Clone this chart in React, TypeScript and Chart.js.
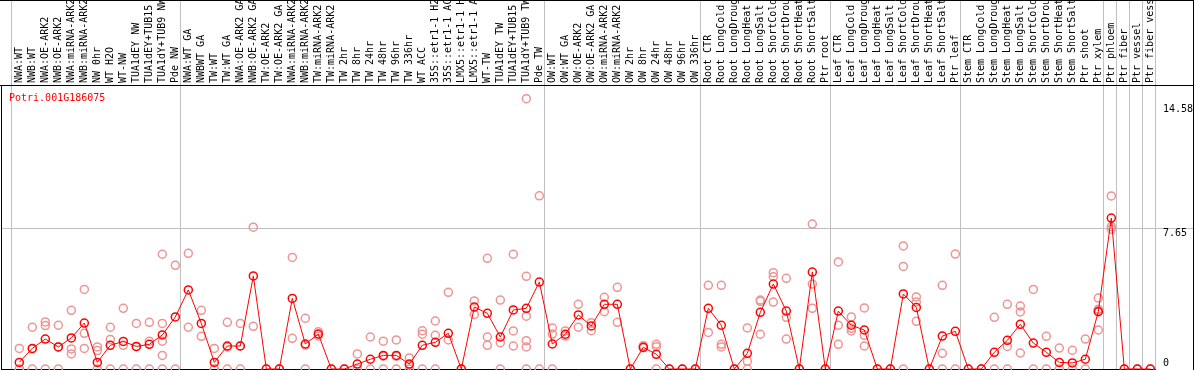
import React, { useEffect, useRef } from "react";
import { Chart, registerables } from "chart.js";

Chart.register(...registerables);

const geneId = "Potri.001G186075";

const categories = [
  "NWA:WT", "NWB:WT", "NWA:OE-ARK2", "NWB:OE-ARK2", "NWA:miRNA-ARK2", "NWB:miRNA-ARK2", "NW 0hr", "WT H2O", "WT-NW", "TUA1dEY NW", "TUA1dEY+TUB15 NW", "TUA1dY+TUB9 NW", "Pde NW",
  "NWA:WT GA", "NWBWT GA", "TW:WT", "TW:WT GA", "NWA:OE-ARK2 GA", "NWB:OE-ARK2 GA", "TW:OE-ARK2", "TW:OE-ARK2 GA", "NWA:miRNA-ARK2 GA", "NWB:miRNA-ARK2 GA", "TW:miRNA-ARK2", "TW:miRNA-ARK2 GA",
  "TW 2hr", "TW 8hr", "TW 24hr", "TW 48hr", "TW 96hr", "TW 336hr", "WT ACC", "35S::etr1-1 H2O", "35S::etr1-1 ACC", "LMX5::etr1-1 H2O", "LMX5::etr1-1 ACC", "WT-TW", "TUA1dEY TW", "TUA1dEY+TUB15 TW", "TUA1dY+TUB9 TW", "Pde TW",
  "OW:WT", "OW:WT GA", "OW:OE-ARK2", "OW:OE-ARK2 GA", "OW:miRNA-ARK2", "OW:miRNA-ARK2 GA", "OW 2hr", "OW 8hr", "OW 24hr", "OW 48hr", "OW 96hr", "OW 336hr",
  "Root CTR", "Root LongCold", "Root LongDrought", "Root LongHeat", "Root LongSalt", "Root ShortCold", "Root ShortDrought", "Root ShortHeat", "Root ShortSalt", "Ptr root",
  "Leaf CTR", "Leaf LongCold", "Leaf LongDrought", "Leaf LongHeat", "Leaf LongSalt", "Leaf ShortCold", "Leaf ShortDrought", "Leaf ShortHeat", "Leaf ShortSalt", "Ptr leaf",
  "Stem CTR", "Stem LongCold", "Stem LongDrought", "Stem LongHeat", "Stem LongSalt", "Stem ShortCold", "Stem ShortDrought", "Stem ShortHeat", "Stem ShortSalt", "Ptr shoot",
  "Ptr xylem", "Ptr phloem", "Ptr fiber", "Ptr vessel", "Ptr fiber vessel",
];

const means = [
  0.36, 1.12, 1.63, 1.2, 1.69, 2.5, 0.36, 1.29, 1.5, 1.23, 1.34, 1.85, 2.83,
  4.3, 2.48, 0.36, 1.25, 1.25, 5.06, 0, 0, 3.84, 1.36, 1.9, 0, 0, 0.27, 0.53, 0.74, 0.74, 0.27, 1.29, 1.45, 1.94, 0, 3.37, 3.03, 1.74, 3.21, 3.3, 4.73,
  1.36, 1.89, 2.94, 2.34, 3.52, 3.52, 0, 1.18, 0.8, 0, 0, 0,
  3.3, 2.38, 0, 0.85, 3.08, 4.62, 3.15, 0, 5.27, 0,
  3.15, 2.38, 2.12, 0, 0, 4.08, 3.35, 0, 1.79, 2.05,
  0, 0, 0.91, 1.56, 2.43, 1.41, 0.91, 0.36, 0.33, 0.53, 3.12, 8.21, 0, 0, 0,
];

const replicates: number[][] = [
  [1.12, 0, 0], [2.27, 1.1, 0], [2.56, 2.36, 0], [2.38, 1.2, 0], [3.19, 1.09, 0.82], [4.33, 1.94, 1.12], [1.2, 1.0, 0], [2.27, 1.61, 0], [3.3, 1.29, 0], [2.48, 1.21, 0], [2.54, 1.51, 0], [6.24, 2.48, 1.51, 0.74, 0], [5.64, 0],
  [6.29, 2.27], [3.19, 1.78], [1.12, 0, 0], [2.54, 1.2, 0], [2.48, 1.25, 0], [7.71, 2.32], [0], [0], [6.07, 1.67], [2.76, 1.3, 0], [2.03, 1.8], [0], [0],
  [0.82, 0], [1.74, 0], [1.51, 0.7, 0], [1.58, 0.7, 0], [0.6, 0.2, 0], [2.08, 1.89, 0], [2.61, 1.83, 0], [4.17, 1.58], [0], [3.7, 2.97], [6.02, 1.74, 1.29], [3.75, 1.43, 0], [6.24, 2.07, 1.25], [14.7, 5.04, 2.87, 1.54, 1.2, 0], [9.42, 0],
  [2.23, 1.9, 0], [2.07, 1.79], [3.52, 2.27], [2.52, 2.08], [3.9, 3.12], [4.44, 2.54], [0], [1.27, 1.16], [1.34, 1.21, 0], [0], [0], [0],
  [4.55, 1.99], [4.55, 1.34, 1.2], [0], [2.23, 0.42, 0], [3.75, 3.68, 1.89], [5.24, 5.02, 3.64], [4.93, 2.81, 1.63], [0], [7.88, 4.62, 3.3], [0],
  [5.82, 2.38, 1.34], [2.83, 2.21, 2.07], [3.32, 1.83, 1.25], [0], [0], [6.69, 5.58, 0], [3.92, 3.64, 2.59], [0], [4.55, 0.85, 0], [6.25, 0],
  [0], [0], [2.81, 0], [3.52, 1.23, 0], [3.42, 3.1, 0.87], [4.33, 0], [1.78, 0], [1.14, 0], [1.02, 0], [1.63, 0],
  [3.86, 3.25, 3.17, 2.12], [9.41, 7.74, 7.6], [0], [0], [0],
];

// indices of the first category of each group (vertical separators), plus the end
const groupStarts = [0, 13, 41, 53, 63, 73, 84, 85, 86, 87, 88];

const yTickValues = [14.58, 7.65, 0];
const yTickLabels = ["14.58", "7.65", "0"];
const gridValue = 7.65;
const yMax = 15.39;

const POINT_POS = 0.64; // point position inside each category cell
const MONO = '10px "DejaVu Sans Mono", monospace';

const decorPlugin = {
  id: "decor",
  beforeDraw(chart: any) {
    const { ctx, width, height } = chart;
    ctx.save();
    ctx.fillStyle = "#ffffff";
    ctx.fillRect(0, 0, width, height);
    ctx.restore();
  },
  beforeDatasetsDraw(chart: any) {
    const { ctx, width, height, chartArea: ca } = chart;
    const xs = chart.scales.x;
    const ys = chart.scales.y;
    ctx.save();
    // gray grid
    ctx.strokeStyle = "#c0c0c0";
    ctx.lineWidth = 1;
    const gy = Math.round(ys.getPixelForValue(gridValue)) + 0.5;
    ctx.beginPath();
    ctx.moveTo(ca.left, gy);
    ctx.lineTo(width, gy);
    ctx.stroke();
    for (const b of groupStarts) {
      const x = Math.round(xs.getPixelForValue(b)) + 0.5;
      ctx.beginPath();
      ctx.moveTo(x, 0);
      ctx.lineTo(x, ca.bottom);
      ctx.stroke();
    }
    // black frame lines
    ctx.strokeStyle = "#000000";
    ctx.beginPath();
    ctx.moveTo(0, 0.5);
    ctx.lineTo(width, 0.5);
    ctx.moveTo(0, ca.top - 0.5);
    ctx.lineTo(width, ca.top - 0.5);
    ctx.moveTo(ca.left - 0.5, ca.top - 1);
    ctx.lineTo(ca.left - 0.5, height);
    ctx.moveTo(ca.left - 1, ca.bottom + 0.5);
    ctx.lineTo(Math.round(xs.getPixelForValue(88)) + 1, ca.bottom + 0.5);
    ctx.moveTo(width - 0.5, 0);
    ctx.lineTo(width - 0.5, height);
    ctx.stroke();

    // header category labels (rotated)
    ctx.font = MONO;
    ctx.fillStyle = "#000000";
    ctx.textAlign = "left";
    ctx.textBaseline = "alphabetic";
    ctx.save();
    ctx.beginPath();
    ctx.rect(0, 1, width, ca.top - 2);
    ctx.clip();
    categories.forEach((c, i) => {
      const px = xs.getPixelForValue(i + POINT_POS);
      ctx.save();
      ctx.translate(Math.round(px) + 3, ca.top - 3);
      ctx.rotate(-Math.PI / 2);
      ctx.fillText(c, 0, 0);
      ctx.restore();
    });
    ctx.restore();

    // gene id
    ctx.fillStyle = "#ff0000";
    ctx.fillText(geneId, 9, ca.top + 15);

    // right axis labels
    ctx.fillStyle = "#000000";
    const lx = Math.round(xs.getPixelForValue(88)) + 8;
    yTickValues.forEach((v, k) => {
      let y: number;
      if (v === 0) y = ys.getPixelForValue(0) - 3;
      else if (k === 0) y = ca.top + 26;
      else y = ys.getPixelForValue(v) + 7.5;
      ctx.fillText(yTickLabels[k], lx, y);
    });
    ctx.restore();
  },
};

export default function App() {
  const ref = useRef<HTMLCanvasElement | null>(null);
  useEffect(() => {
    document.body.style.margin = "0";
    const canvas = ref.current;
    if (!canvas) return;
    const repPoints: { x: number; y: number }[] = [];
    replicates.forEach((arr, i) => arr.forEach((v) => repPoints.push({ x: i + POINT_POS, y: v })));
    const meanPoints = means.map((v, i) => ({ x: i + POINT_POS, y: v }));
    const chart = new Chart(canvas, {
      type: "scatter",
      data: {
        datasets: [
          {
            label: "mean",
            data: meanPoints,
            showLine: true,
            borderColor: "#ff0000",
            borderWidth: 1,
            pointRadius: 4,
            pointBorderWidth: 1.5,
            pointBorderColor: "#ff0000",
            pointBackgroundColor: "rgba(0,0,0,0)",
            backgroundColor: "rgba(0,0,0,0)",
            tension: 0,
            clip: false as any,
            order: 0,
          },
          {
            label: "replicates",
            data: repPoints,
            showLine: false,
            pointRadius: 4,
            pointBorderWidth: 1.5,
            pointBorderColor: "#ee9494",
            pointBackgroundColor: "rgba(0,0,0,0)",
            backgroundColor: "rgba(0,0,0,0)",
            borderColor: "#ee9494",
            clip: false as any,
            order: 1,
          },
        ],
      },
      options: {
        responsive: false,
        animation: false,
        layout: { autoPadding: false, padding: { left: 2, right: 39, top: 86, bottom: 1 } },
        plugins: { legend: { display: false }, tooltip: { enabled: false } },
        scales: {
          x: { type: "linear", display: false, min: -9 / 13, max: 88 },
          y: { type: "linear", display: false, min: 0, max: yMax },
        },
      },
      plugins: [decorPlugin],
    });
    return () => chart.destroy();
  }, []);
  return <canvas ref={ref} width={1194} height={370} style={{ display: "block", width: 1194, height: 370 }} />;
}
